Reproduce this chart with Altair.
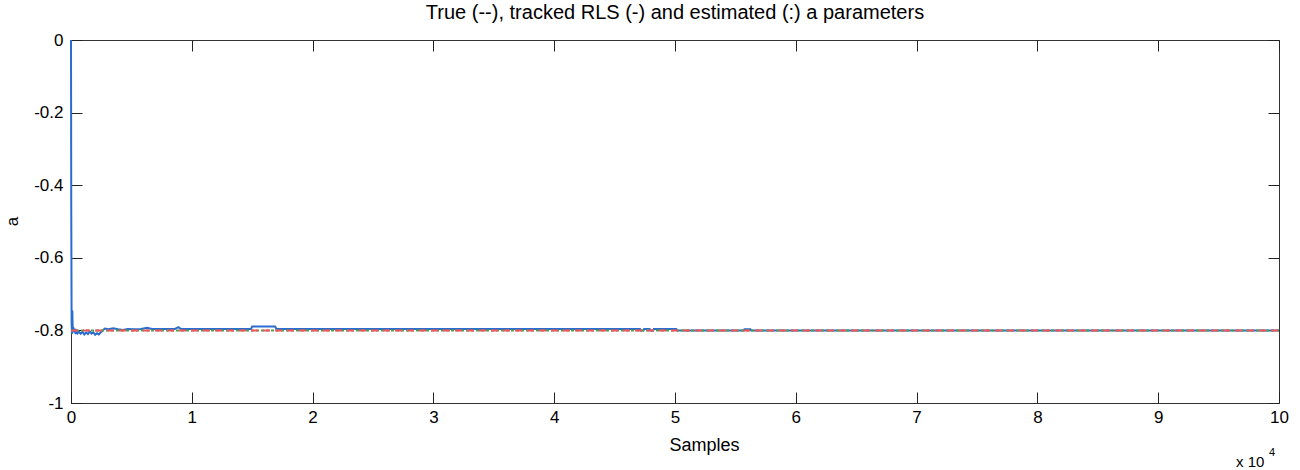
import altair as alt
import pandas as pd

# Tracked RLS estimate (solid blue)
rls_samples = [0, 20, 50, 80, 110, 140, 180, 230, 300, 380, 450, 550, 650, 800, 950,
               1100, 1250, 1400, 1550, 1700, 1850, 2000, 2150, 2300, 2450, 2600, 2800,
               3100, 3500, 3900, 4300, 4700, 5200, 5800, 6300, 6700, 7500, 8600, 8900,
               9100, 14900, 15000, 16900, 17000, 47100, 47150, 47400, 47450, 47900,
               47950, 48200, 48250, 50100, 50200, 55700, 55750, 56250, 56300, 100000]
rls_values = [0.0, -0.45, -0.78, -0.81, -0.745, -0.80, -0.79, -0.805, -0.795, -0.81,
              -0.802, -0.808, -0.803, -0.809, -0.804, -0.811, -0.806, -0.81, -0.803,
              -0.809, -0.805, -0.812, -0.808, -0.811, -0.806, -0.801, -0.795, -0.797,
              -0.794, -0.797, -0.799, -0.796, -0.797, -0.796, -0.793, -0.796, -0.796,
              -0.796, -0.791, -0.796, -0.796, -0.789, -0.789, -0.796, -0.796, -0.8,
              -0.8, -0.796, -0.796, -0.8, -0.8, -0.796, -0.796, -0.8, -0.8, -0.797,
              -0.797, -0.8, -0.8]

# True parameter (dashed red) and estimated parameter (dotted green)
true_samples = [0, 100000]
true_values = [-0.8, -0.8]
est_samples = [0, 100000]
est_values = [-0.8, -0.8]

x_ticks = [0, 10000, 20000, 30000, 40000, 50000, 60000, 70000, 80000, 90000, 100000]
y_ticks = [-1, -0.8, -0.6, -0.4, -0.2, 0]

FONT = "Liberation Sans"
TICK = 11

rls_df = pd.DataFrame({"s": rls_samples, "a": rls_values})
true_df = pd.DataFrame({"s": true_samples, "a": true_values})
est_df = pd.DataFrame({"s": est_samples, "a": est_values})

xs = alt.Scale(domain=[0, 100000], nice=False, zero=False)
ys = alt.Scale(domain=[-1, 0], nice=False, zero=False)

x_bottom = alt.Axis(values=x_ticks, labelExpr="format(datum.value / 10000, 'd')",
                    orient="bottom", offset=-TICK, tickSize=TICK, domain=False, grid=False,
                    labelPadding=6, labelFontSize=17, labelFont=FONT, labelColor="#000",
                    tickColor="#222", title="Samples", titleFont=FONT, titleFontSize=18,
                    titleFontWeight="normal", titleColor="#000", titleY=58,
                    titleX=633, titleAlign="center",
                    titleBaseline="alphabetic", labelFlush=False, labelOverlap=False)
y_left = alt.Axis(values=y_ticks,
                  labelExpr="datum.value == 0 ? '0' : (datum.value == -1 ? '-1' : '-' + format(-datum.value, '.1f'))",
                  orient="left", offset=-TICK, tickSize=TICK, domain=False, grid=False,
                  labelPadding=8, labelFontSize=17, labelFont=FONT, labelColor="#000",
                  tickColor="#222", title="a", titleFont=FONT, titleFontSize=17,
                  titleFontWeight="normal", titleColor="#000", titleAngle=-90,
                  titleX=-70, titleY=181, titleBaseline="middle", labelFlush=False,
                  labelOverlap=False)
x_top = alt.Axis(values=x_ticks, orient="top", offset=-TICK, tickSize=TICK, domain=False,
                 grid=False, labels=False, title=None, tickColor="#222")
y_right = alt.Axis(values=y_ticks, orient="right", offset=-TICK, tickSize=TICK, domain=False,
                   grid=False, labels=False, title=None, tickColor="#222")

rls = alt.Chart(rls_df).mark_line(color="#2a6ccf", strokeWidth=2).encode(
    x=alt.X("s:Q", scale=xs, axis=x_bottom),
    y=alt.Y("a:Q", scale=ys, axis=y_left),
)
est = alt.Chart(est_df).mark_line(color="#4f9f50", strokeWidth=2, strokeDash=[3, 2]).encode(
    x=alt.X("s:Q", scale=xs, axis=x_top),
    y=alt.Y("a:Q", scale=ys, axis=y_right),
)
true = alt.Chart(true_df).mark_line(color="#f2555f", strokeWidth=2, strokeDash=[7, 5]).encode(
    x=alt.X("s:Q", scale=xs, axis=None),
    y=alt.Y("a:Q", scale=ys, axis=None),
)

exp_df = pd.DataFrame({"t": ["x 10"], "p": ["4"]})
exp_main = alt.Chart(exp_df).mark_text(align="left", baseline="alphabetic", font=FONT,
                                       fontSize=15, color="#000").encode(
    x=alt.value(1165), y=alt.value(427), text="t:N")
exp_sup = alt.Chart(exp_df).mark_text(align="left", baseline="alphabetic", font=FONT,
                                      fontSize=11, color="#000").encode(
    x=alt.value(1198), y=alt.value(416), text="p:N")

chart = alt.layer(rls, est, true, exp_main, exp_sup).resolve_axis(
    x="independent", y="independent"
).properties(
    width=1208, height=363,
    autosize=alt.AutoSizeParams(type="none"),
    padding={"left": 71, "top": 40, "right": 21, "bottom": 67},
    background="white",
    title=alt.TitleParams("True (--), tracked RLS (-) and estimated (:) a parameters",
                          font=FONT, fontSize=20, fontWeight="normal", color="#000",
                          anchor="middle", frame="group", offset=8),
).configure_view(stroke="#333333", strokeWidth=1)

chart.save("out.html", embed_options={"renderer": "svg", "actions": False})
